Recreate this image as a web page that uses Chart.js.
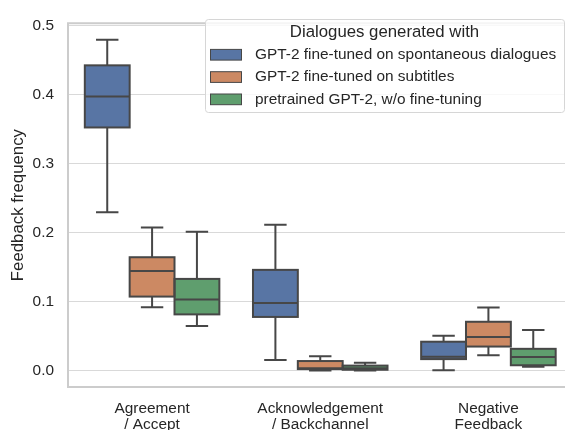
<!DOCTYPE html>
<html>
<head>
<meta charset="utf-8">
<script src="https://cdn.jsdelivr.net/npm/chart.js@4/dist/chart.umd.min.js"></script>
<style>
  html, body { margin: 0; padding: 0; background: #fff; overflow: hidden; }
  #wrap { width: 580px; height: 430px; }
</style>
</head>
<body>
<div id="wrap"><canvas id="myChart" width="580" height="430"></canvas></div>
<script>
// categorias (duas linhas cada)
const categories = [['Agreement', '/ Accept'], ['Acknowledgement', '/ Backchannel'], ['Negative', 'Feedback']];
const legendTitle = 'Dialogues generated with';
const seriesNames = ['GPT-2 fine-tuned on spontaneous dialogues', 'GPT-2 fine-tuned on subtitles', 'pretrained GPT-2, w/o fine-tuning'];

// [min, q1, mediana, q3, max] por categoria
const spontaneous = [[0.229, 0.352, 0.397, 0.442, 0.479], [0.015, 0.0775, 0.0976, 0.1457, 0.211], [0.0004, 0.0164, 0.020, 0.0416, 0.0504]];
const subtitles = [[0.0915, 0.107, 0.144, 0.164, 0.207], [0.0, 0.002, 0.003, 0.0136, 0.0205], [0.022, 0.0346, 0.0486, 0.0705, 0.091]];
const pretrained = [[0.0644, 0.0812, 0.1027, 0.1326, 0.201], [0.0, 0.001, 0.003, 0.007, 0.0112], [0.0052, 0.0075, 0.0196, 0.0313, 0.0584]];

const yTicks = [0.0, 0.1, 0.2, 0.3, 0.4, 0.5];

const colors = ['#5875a4', '#cc8963', '#5f9e6e'];
const lineGray = '#474747';
const textColor = '#262626';
const FONT = "'Liberation Sans', Arial, sans-serif";

const allSeries = [spontaneous, subtitles, pretrained];

// whiskers, medianas e contorno das caixas
const boxPlugin = {
  id: 'boxes',
  afterDatasetsDraw(chart) {
    const c = chart.ctx;
    const y = chart.scales.y;
    c.save();
    c.strokeStyle = lineGray;
    c.lineWidth = 2;
    allSeries.forEach((serie, i) => {
      const meta = chart.getDatasetMeta(i);
      meta.data.forEach((bar, j) => {
        const s = serie[j];
        const x = bar.x, w = bar.width;
        const pMin = y.getPixelForValue(s[0]);
        const pQ1 = y.getPixelForValue(s[1]);
        const pMed = y.getPixelForValue(s[2]);
        const pQ3 = y.getPixelForValue(s[3]);
        const pMax = y.getPixelForValue(s[4]);
        c.beginPath();
        c.moveTo(x, pQ3); c.lineTo(x, pMax);
        c.moveTo(x, pQ1); c.lineTo(x, pMin);
        c.moveTo(x - w / 4, pMax); c.lineTo(x + w / 4, pMax);
        c.moveTo(x - w / 4, pMin); c.lineTo(x + w / 4, pMin);
        c.moveTo(x - w / 2, pMed); c.lineTo(x + w / 2, pMed);
        c.stroke();
        c.strokeRect(x - w / 2, pQ3, w, pQ1 - pQ3);
      });
    });
    c.restore();
  }
};

// moldura (spines) cinza claro
const framePlugin = {
  id: 'frame',
  beforeDatasetsDraw(chart) {
    const a = chart.chartArea;
    const c = chart.ctx;
    c.save();
    c.strokeStyle = '#cccccc';
    c.lineWidth = 2;
    c.strokeRect(a.left, a.top, a.right - a.left, a.bottom - a.top);
    c.restore();
  }
};

// legenda desenhada à mão, dentro da área do gráfico
const legendPlugin = {
  id: 'myLegend',
  afterDraw(chart) {
    const c = chart.ctx;
    const left = 205, top = 19, w = 359, h = 93;
    c.save();
    c.fillStyle = 'rgba(255,255,255,0.8)';
    c.strokeStyle = '#d6d6d6';
    c.lineWidth = 1;
    c.beginPath();
    c.roundRect(left + 0.5, top + 0.5, w, h, 3);
    c.fill();
    c.stroke();

    c.fillStyle = textColor;
    c.textBaseline = 'middle';
    c.textAlign = 'center';
    c.font = '16.8px ' + FONT;
    c.fillText(legendTitle, left + w / 2, 32);

    c.textAlign = 'left';
    c.font = '15.4px ' + FONT;
    seriesNames.forEach((name, i) => {
      const cy = 54.7 + i * 22.3;
      c.fillStyle = colors[i];
      c.fillRect(210.5, cy - 5.3, 31, 10.7);
      c.strokeStyle = lineGray;
      c.lineWidth = 1;
      c.strokeRect(210.5, cy - 5.3, 31, 10.7);
      c.fillStyle = textColor;
      c.fillText(name, 255, cy);
    });
    c.restore();
  }
};

const ctx = document.getElementById('myChart').getContext('2d');
new Chart(ctx, {
  type: 'bar',
  data: {
    labels: categories,
    datasets: allSeries.map((serie, i) => ({
      label: seriesNames[i],
      data: serie.map(s => [s[1], s[3]]),
      backgroundColor: colors[i],
      borderWidth: 0,
      categoryPercentage: 0.8,
      barPercentage: 1.0
    }))
  },
  options: {
    responsive: false,
    animation: false,
    layout: { padding: { top: 12, right: 7.5, left: 0, bottom: 0 } },
    plugins: {
      legend: { display: false },
      tooltip: { enabled: false }
    },
    scales: {
      x: {
        grid: { display: false },
        border: { display: false },
        ticks: {
          color: textColor,
          font: { family: FONT, size: 15.4, lineHeight: 1.085 },
          padding: 5,
          maxRotation: 0
        },
        afterFit(scale) { scale.height = 43; }
      },
      y: {
        min: -0.024,
        max: 0.503,
        grid: { color: '#d9d9d9', lineWidth: 1, drawTicks: false },
        border: { display: false },
        ticks: {
          color: textColor,
          font: { family: FONT, size: 15.4 },
          padding: 14,
          callback: v => v.toFixed(1)
        },
        afterBuildTicks(scale) {
          scale.ticks = yTicks.map(v => ({ value: v }));
        },
        title: {
          display: true,
          text: 'Feedback frequency',
          color: textColor,
          font: { family: FONT, size: 16.8 },
          padding: { top: 8, bottom: 0 }
        },
        afterFit(scale) { scale.width = 68; }
      }
    }
  },
  plugins: [framePlugin, boxPlugin, legendPlugin]
});
</script>
</body>
</html>
